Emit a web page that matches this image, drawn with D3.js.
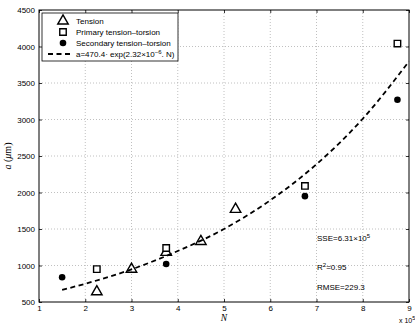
<!DOCTYPE html>
<html>
<head>
<meta charset="utf-8">
<script src="https://cdn.jsdelivr.net/npm/d3@7"></script>
<style>
body { margin: 0; background: #fff; }
svg { display: block; font-family: "Liberation Sans", Arial, sans-serif; }
.grid line { stroke: #b0b0b0; stroke-dasharray: 1,2; stroke-width: 0.8; }
</style>
</head>
<body>
<div id="chart"></div>
<script>
// values (N in units of 1e5, a in um)
var tensionN = [2.25, 3.0, 3.75, 4.5, 5.25];
var tensionA = [640, 950, 1180, 1330, 1770];
var primaryN = [2.25, 3.75, 6.75, 8.75];
var primaryA = [950, 1240, 2090, 4040];
var secondaryN = [1.5, 3.75, 6.75, 8.75];
var secondaryA = [840, 1020, 1950, 3270];
var fitN = [1.5, 2, 3, 4, 5, 6, 7, 8, 9];
var fitA = [666, 750, 947, 1198, 1500, 1893, 2387, 3010, 3796];
var xTicks = [1, 2, 3, 4, 5, 6, 7, 8, 9];
var yTicks = [500, 1000, 1500, 2000, 2500, 3000, 3500, 4000, 4500];
var legendLabels = ["Tension", "Primary tension\u2013torsion", "Secondary tension\u2013torsion"];

var margin = {top: 10, right: 6, bottom: 25, left: 39},
    width = 415 - margin.left - margin.right,
    height = 327 - margin.top - margin.bottom;

var x = d3.scaleLinear().domain([1, 9]).range([0, width]);
var y = d3.scaleLinear().domain([500, 4500]).range([height, 0]);

var svg = d3.select("#chart").append("svg")
    .attr("width", 415)
    .attr("height", 327)
  .append("g")
    .attr("transform", "translate(" + margin.left + "," + margin.top + ")");

// grid
var grid = svg.append("g").attr("class", "grid");
grid.selectAll(".gx").data(xTicks.slice(1, -1)).enter().append("line")
    .attr("x1", function(d) { return x(d); }).attr("x2", function(d) { return x(d); })
    .attr("y1", 0).attr("y2", height);
grid.selectAll(".gy").data(yTicks.slice(1, -1)).enter().append("line")
    .attr("y1", function(d) { return y(d); }).attr("y2", function(d) { return y(d); })
    .attr("x1", 0).attr("x2", width);

// axes, inward ticks on all four sides
function styleAxis(g) {
  g.select(".domain").remove();
  g.selectAll("line").attr("stroke", "#000").attr("stroke-width", 0.8);
  g.selectAll("text").attr("font-size", "8px").attr("fill", "#000");
}
svg.append("g")
    .attr("transform", "translate(0," + height + ")")
    .call(d3.axisBottom(x).tickValues(xTicks).tickFormat(d3.format("d")).tickSizeInner(-3).tickPadding(3))
    .call(styleAxis);
svg.append("g")
    .call(d3.axisTop(x).tickValues(xTicks).tickFormat("").tickSizeInner(-3))
    .call(styleAxis);
svg.append("g")
    .call(d3.axisLeft(y).tickValues(yTicks).tickFormat(d3.format("d")).tickSizeInner(-3).tickPadding(4))
    .call(styleAxis);
svg.append("g")
    .attr("transform", "translate(" + width + ",0)")
    .call(d3.axisRight(y).tickValues(yTicks).tickFormat("").tickSizeInner(-3))
    .call(styleAxis);

svg.append("rect")
    .attr("width", width).attr("height", height)
    .attr("fill", "none").attr("stroke", "#000").attr("stroke-width", 1);

// fitted curve
var line = d3.line()
    .x(function(d, i) { return x(fitN[i]); })
    .y(function(d) { return y(d); })
    .curve(d3.curveMonotoneX);
svg.append("path")
    .datum(fitA)
    .attr("d", line)
    .attr("fill", "none")
    .attr("stroke", "#000")
    .attr("stroke-width", 1.8)
    .attr("stroke-dasharray", "5,3.5");

var triSym = d3.symbol().type(d3.symbolTriangle).size(48);
var sqSym = d3.symbol().type(d3.symbolSquare).size(42);

svg.selectAll(".tri").data(tensionA).enter().append("path")
    .attr("d", triSym)
    .attr("transform", function(d, i) { return "translate(" + x(tensionN[i]) + "," + y(d) + ")"; })
    .attr("fill", "none").attr("stroke", "#000").attr("stroke-width", 1.4);

svg.selectAll(".sq").data(primaryA).enter().append("path")
    .attr("d", sqSym)
    .attr("transform", function(d, i) { return "translate(" + x(primaryN[i]) + "," + y(d) + ")"; })
    .attr("fill", "#fff").attr("stroke", "#000").attr("stroke-width", 1.4);

svg.selectAll(".dot").data(secondaryA).enter().append("circle")
    .attr("cx", function(d, i) { return x(secondaryN[i]); })
    .attr("cy", function(d) { return y(d); })
    .attr("r", 3.3)
    .attr("fill", "#000");

// legend
var leg = svg.append("g").attr("transform", "translate(3,3)");
leg.append("rect")
    .attr("width", 136).attr("height", 48)
    .attr("fill", "#fff").attr("stroke", "#000").attr("stroke-width", 0.8);
var rowY = [8, 19, 30, 41];
leg.append("path").attr("d", triSym).attr("transform", "translate(21," + rowY[0] + ")")
    .attr("fill", "none").attr("stroke", "#000").attr("stroke-width", 1.4);
leg.append("path").attr("d", sqSym).attr("transform", "translate(21," + rowY[1] + ")")
    .attr("fill", "none").attr("stroke", "#000").attr("stroke-width", 1.4);
leg.append("circle").attr("cx", 21).attr("cy", rowY[2]).attr("r", 3.3).attr("fill", "#000");
leg.append("line").attr("x1", 6).attr("x2", 30).attr("y1", rowY[3]).attr("y2", rowY[3])
    .attr("stroke", "#000").attr("stroke-width", 1.8).attr("stroke-dasharray", "5,3.5");
leg.selectAll(".lt").data(legendLabels).enter().append("text")
    .attr("x", 34).attr("y", function(d, i) { return rowY[i] + 3; })
    .attr("font-size", "8px")
    .text(function(d) { return d; });
var eq = leg.append("text").attr("x", 34).attr("y", rowY[3] + 3).attr("font-size", "8px");
eq.append("tspan").text("a=470.4\u00b7 exp(2.32\u00d710");
eq.append("tspan").attr("dy", -3).attr("font-size", "6px").text("\u22126");
eq.append("tspan").attr("dy", 3).text(". N)");

// fit statistics
var st = svg.append("g").attr("font-size", "8px");
var sse = st.append("text").attr("x", 278).attr("y", 231);
sse.append("tspan").text("SSE=6.31\u00d710");
sse.append("tspan").attr("dy", -3).attr("font-size", "6px").text("5");
var r2 = st.append("text").attr("x", 278).attr("y", 260);
r2.append("tspan").text("R");
r2.append("tspan").attr("dy", -3).attr("font-size", "6px").text("2");
r2.append("tspan").attr("dy", 3).text("=0.95");
st.append("text").attr("x", 278).attr("y", 280).text("RMSE=229.3");

// axis labels
svg.append("text")
    .attr("x", x(5)).attr("y", height + 18.5)
    .attr("text-anchor", "middle")
    .attr("font-family", "'Liberation Serif', serif")
    .attr("font-style", "italic")
    .attr("font-size", "9.5px")
    .text("N");
var yl = svg.append("text")
    .attr("transform", "translate(-28," + (height / 2) + ") rotate(-90)")
    .attr("text-anchor", "middle")
    .attr("font-family", "'Liberation Serif', serif")
    .attr("font-size", "10px");
yl.append("tspan").attr("font-style", "italic").text("a");
yl.append("tspan").text(" (");
yl.append("tspan").attr("font-style", "italic").text("\u03bc");
yl.append("tspan").text("m)");

var ex = svg.append("text").attr("x", width - 10).attr("y", height + 21).attr("font-size", "7px");
ex.append("tspan").text("x 10");
ex.append("tspan").attr("dy", -3).attr("font-size", "5.5px").text("5");
</script>
</body>
</html>
